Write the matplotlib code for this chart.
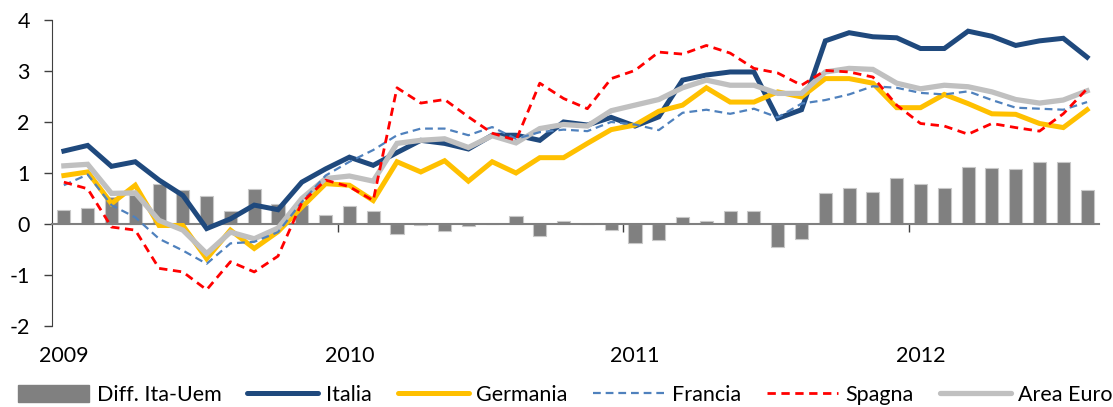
import numpy as np
import matplotlib
matplotlib.use("Agg")
import matplotlib.pyplot as plt
from matplotlib.patches import Patch
from matplotlib.lines import Line2D
import matplotlib.transforms as mtransforms

plt.rcParams['font.family'] = ['Lato', 'DejaVu Sans']
plt.rcParams['axes.unicode_minus'] = False

# monthly data, Jan 2009 - Aug 2012
year_labels = ['2009', '2010', '2011', '2012']

diff = [0.28, 0.32, 0.53, 0.57, 0.78, 0.67, 0.55, 0.25, 0.69, 0.39,
        0.38, 0.17, 0.36, 0.26, -0.20, -0.02, -0.14, -0.03, -0.01, 0.16,
        -0.23, 0.06, -0.01, -0.12, -0.38, -0.32, 0.14, 0.05, 0.25, 0.26,
        -0.46, -0.29, 0.61, 0.71, 0.62, 0.90, 0.79, 0.70, 1.12, 1.09,
        1.07, 1.21, 1.22, 0.67]

italia = [1.43, 1.54, 1.13, 1.22, 0.86, 0.56, -0.09, 0.10, 0.37, 0.28,
          0.82, 1.08, 1.31, 1.15, 1.40, 1.64, 1.58, 1.47, 1.74, 1.74,
          1.64, 2.00, 1.94, 2.09, 1.92, 2.10, 2.82, 2.92, 2.98, 2.98,
          2.07, 2.24, 3.59, 3.75, 3.67, 3.65, 3.44, 3.44, 3.78, 3.68,
          3.50, 3.59, 3.64, 3.27]

germania = [0.95, 1.02, 0.40, 0.76, -0.03, -0.03, -0.68, -0.12, -0.48, -0.15,
            0.33, 0.79, 0.76, 0.46, 1.22, 1.02, 1.24, 0.84, 1.22, 1.00,
            1.30, 1.30, 1.58, 1.85, 1.94, 2.21, 2.33, 2.67, 2.39, 2.39,
            2.59, 2.49, 2.85, 2.85, 2.76, 2.28, 2.28, 2.54, 2.36, 2.16,
            2.15, 1.97, 1.89, 2.24]

francia = [0.76, 0.97, 0.37, 0.13, -0.29, -0.52, -0.78, -0.38, -0.35, -0.16,
           0.43, 0.95, 1.22, 1.45, 1.74, 1.87, 1.87, 1.74, 1.90, 1.67,
           1.80, 1.85, 1.82, 2.00, 1.95, 1.84, 2.18, 2.24, 2.16, 2.26,
           2.09, 2.36, 2.43, 2.54, 2.70, 2.67, 2.57, 2.54, 2.60, 2.43,
           2.28, 2.26, 2.24, 2.39]

spagna = [0.82, 0.69, -0.06, -0.12, -0.87, -0.94, -1.29, -0.74, -0.94, -0.63,
          0.42, 0.86, 0.73, 0.46, 2.67, 2.37, 2.44, 2.10, 1.78, 1.64,
          2.76, 2.46, 2.26, 2.85, 3.01, 3.37, 3.33, 3.50, 3.35, 3.05,
          2.96, 2.72, 3.01, 2.98, 2.88, 2.33, 1.97, 1.92, 1.76, 1.97,
          1.89, 1.82, 2.16, 2.65]

area_euro = [1.14, 1.17, 0.60, 0.61, 0.07, -0.12, -0.58, -0.16, -0.29, -0.08,
             0.50, 0.89, 0.94, 0.84, 1.58, 1.64, 1.67, 1.50, 1.73, 1.59,
             1.87, 1.95, 1.92, 2.22, 2.33, 2.44, 2.67, 2.82, 2.72, 2.72,
             2.56, 2.56, 2.98, 3.05, 3.03, 2.76, 2.65, 2.72, 2.69, 2.59,
             2.44, 2.37, 2.43, 2.61]

x = np.arange(len(italia))

fig = plt.figure(figsize=(11.13, 4.07), dpi=100)
ax = fig.add_axes([0.0467, 0.199, 0.9407, 0.752])

ax.bar(x, diff, width=0.55, color='#808080', edgecolor='#C8C8C8', linewidth=0.8,
       zorder=2, label='Diff. Ita-Uem')
ax.plot(x, italia, color='#1F497D', lw=3.6, zorder=3, label='Italia',
        solid_joinstyle='miter')
ax.plot(x, germania, color='#FFC000', lw=3.6, zorder=3, label='Germania',
        solid_joinstyle='miter')
ax.plot(x, francia, color='#4F81BD', lw=1.6, dashes=(3.5, 2.2), zorder=4, label='Francia')
ax.plot(x, spagna, color='#FF0000', lw=2.0, dashes=(3, 2), zorder=4, label='Spagna')
ax.plot(x, area_euro, color='#C0C0C0', lw=3.8, zorder=3, label='Area Euro',
        solid_joinstyle='miter')

ax.set_xlim(-0.5, len(x) - 0.5)
ax.set_ylim(-2, 4)
ax.set_yticks(np.arange(-2, 5, 1))
ax.tick_params(axis='y', direction='out', length=6, width=1, pad=10,
               labelsize=15.5, color='#404040')

# horizontal axis at zero with year boundary ticks
ax.spines['top'].set_visible(False)
ax.spines['right'].set_visible(False)
ax.spines['left'].set_color('#404040')
ax.spines['bottom'].set_position(('data', 0))
ax.spines['bottom'].set_color('#808080')
ax.spines['bottom'].set_linewidth(1.5)
ax.spines['bottom'].set_zorder(2.5)
ax.set_xticks(np.arange(-0.5, len(x), 12)[1:])
ax.set_xticklabels([])
ax.tick_params(axis='x', direction='out', length=6, width=1, color='#404040')

trans = mtransforms.blended_transform_factory(ax.transData, ax.transAxes)
for k, lab in enumerate(year_labels):
    ax.text(k * 12, -0.098, lab, transform=trans, ha='center', va='center',
            fontsize=15.5)

handles = [Patch(facecolor='#808080', edgecolor='#808080'),
           Line2D([], [], color='#1F497D', lw=3.6, solid_capstyle='round'),
           Line2D([], [], color='#FFC000', lw=3.6, solid_capstyle='round'),
           Line2D([], [], color='#4F81BD', lw=1.6, dashes=(3.5, 2.2)),
           Line2D([], [], color='#FF0000', lw=2.0, dashes=(3, 2)),
           Line2D([], [], color='#C0C0C0', lw=3.8, solid_capstyle='round')]
labels = ['Diff. Ita-Uem', 'Italia', 'Germania', 'Francia', 'Spagna', 'Area Euro']
fig.legend(handles, labels, loc='center', bbox_to_anchor=(0.508, 0.03), ncol=6,
           frameon=False, fontsize=15.5, handlelength=3.3, handleheight=0.9,
           handletextpad=0.35, columnspacing=1.2, borderaxespad=0)

fig.savefig('out.png', dpi=100)
